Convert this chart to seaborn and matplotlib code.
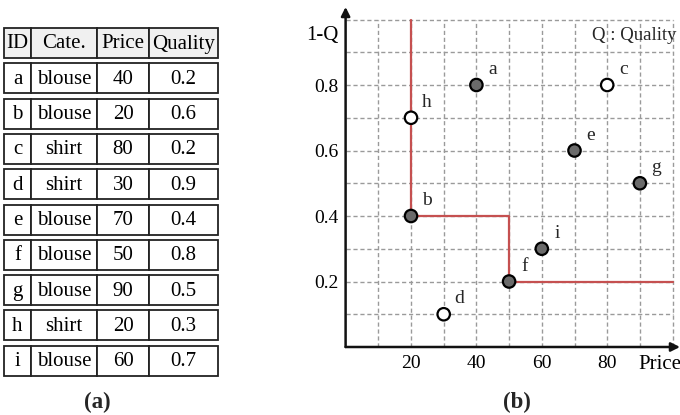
import matplotlib
matplotlib.use("Agg")
import matplotlib.pyplot as plt
import numpy as np
import pandas as pd
import seaborn as sns
from matplotlib.patches import Rectangle

# data
ids = ["a", "b", "c", "d", "e", "f", "g", "h", "i"]
categories = ["blouse", "blouse", "shirt", "shirt", "blouse",
              "blouse", "blouse", "shirt", "blouse"]
prices = [40, 20, 80, 30, 70, 50, 90, 20, 60]
quality = [0.2, 0.6, 0.2, 0.9, 0.4, 0.8, 0.5, 0.3, 0.7]
header = ["ID", "Cate.", "Price", "Quality"]

x_ticks = [20, 40, 60, 80]
y_ticks = [0.2, 0.4, 0.6, 0.8]
grid_x = np.arange(10, 101, 10)
grid_y = np.round(np.arange(0.1, 1.01, 0.1), 1)

df = pd.DataFrame({"id": ids, "cate": categories, "price": prices, "quality": quality})
df["inv_q"] = (1 - df["quality"]).round(2)

sns.set_theme(style="white")
plt.rcParams["font.family"] = ["Liberation Serif", "DejaVu Serif"]

W, H = 680, 415
fig = plt.figure(figsize=(W / 100, H / 100), dpi=100)

# ---- (a) table, drawn in pixel space ----
tab = fig.add_axes([0, 0, 1, 1])
tab.set_xlim(0, W)
tab.set_ylim(H, 0)
tab.axis("off")

col_edges = [4, 31, 97, 149, 218]
row_top, row_pitch, row_h = 28, 35.3, 30
rows = [header] + [[r.id, r.cate, str(r.price), f"{r.quality:.1f}"] for r in df.itertuples()]
for ri, row in enumerate(rows):
    top = row_top + ri * row_pitch
    for ci, txt in enumerate(row):
        x0, x1 = col_edges[ci], col_edges[ci + 1]
        tab.add_patch(Rectangle((x0, top), x1 - x0, row_h,
                                facecolor="#f0f0f0" if ri == 0 else "white",
                                edgecolor="#222222", lw=1.3))
        tab.text((x0 + x1) / 2, top + row_h / 2 + 1, txt, ha="center", va="center",
                 fontsize=15, color="black")

tab.text(97, 402, "(a)", ha="center", va="center", fontsize=16.5, fontweight="bold")
tab.text(517, 402, "(b)", ha="center", va="center", fontsize=16.5, fontweight="bold")

# ---- (b) scatter ----
ax = fig.add_axes([345.6 / W, (H - 347) / H, (W - 345.6) / W, 340 / H])
ax.set_xlim(0, (W - 345.6) / 3.27)
ax.set_ylim(0, 340 / 327.5)

ax.vlines(grid_x, 0, 1.0, colors="#9a9a9a", lw=1, linestyles=(0, (3, 2)), zorder=1)
ax.hlines(grid_y, 0, 100, colors="#9a9a9a", lw=1, linestyles=(0, (3, 2)), zorder=1)

# skyline of blouse items
blouse = df[df["cate"] == "blouse"].sort_values(["price", "inv_q"])
sky = []
best = np.inf
for p, v in zip(blouse["price"], blouse["inv_q"]):
    if v < best:
        sky.append((p, v))
        best = v
sx, sy = [sky[0][0]], [1.0]
for k, (p, v) in enumerate(sky):
    sx.append(p)
    sy.append(v)
    nxt = sky[k + 1][0] if k + 1 < len(sky) else 100
    sx.append(nxt)
    sy.append(v)
ax.plot(sx, sy, color="#c55050", lw=1.6, zorder=2)

sns.scatterplot(data=df, x="price", y="inv_q", hue="cate",
                palette={"blouse": "#6b6b6b", "shirt": "white"},
                edgecolor="black", linewidth=1.6, s=80, legend=False, zorder=3, ax=ax)

for r in df.itertuples():
    ax.annotate(r.id, (r.price, r.inv_q), xytext=(11.5, 11), textcoords="offset points",
                ha="center", va="center", fontsize=14)

ax.text(88.2, 0.95, "Q : Quality", ha="center", va="center", fontsize=13.5)

ax.set_xticks(x_ticks + [96])
ax.set_xticklabels([str(t) for t in x_ticks] + ["Price"], fontsize=14)
ax.set_yticks(y_ticks + [0.96])
ax.set_yticklabels([f"{t:.1f}" for t in y_ticks] + ["1-Q"], fontsize=14)
ax.get_xticklabels()[-1].set_fontsize(15)
ax.get_yticklabels()[-1].set_fontsize(15)
ax.tick_params(axis="both", length=0, colors="black")
ax.tick_params(axis="x", pad=6)
ax.tick_params(axis="y", pad=5)
ax.set_xlabel("")
ax.set_ylabel("")
for s in ax.spines.values():
    s.set_visible(False)
ax.patch.set_alpha(0)

arrow = dict(arrowstyle="-|>", lw=1.8, color="#111111", mutation_scale=13, shrinkA=0, shrinkB=0)
ax.annotate("", xy=(1, 0), xytext=(0, 0), xycoords="axes fraction", arrowprops=arrow)
ax.annotate("", xy=(0, 1), xytext=(0, 0), xycoords="axes fraction", arrowprops=arrow)

fig.savefig("out.png", dpi=100)
